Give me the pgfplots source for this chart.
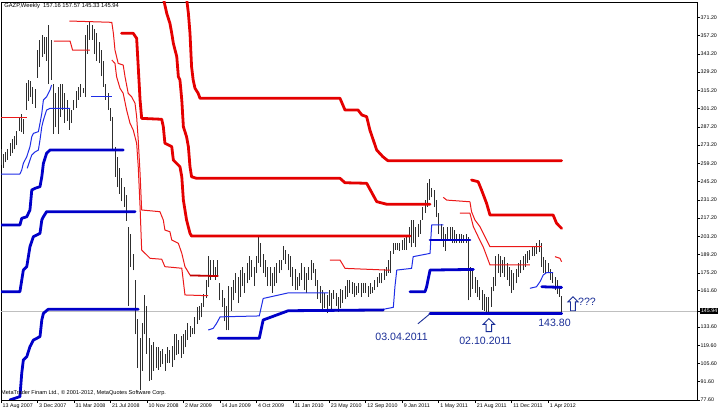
\documentclass[border=0pt]{standalone}
\usepackage{pgfplots}
\pgfplotsset{compat=1.18}
\usepackage{pgfplotstable}
\usepackage{fontspec}
\setmainfont{Liberation Sans}
\usetikzlibrary{shapes.arrows}
\definecolor{redk}{RGB}{228,0,0}
\definecolor{redt}{RGB}{235,25,25}
\definecolor{bluek}{RGB}{0,0,200}
\definecolor{bluet}{RGB}{30,45,230}
\definecolor{annot}{RGB}{25,45,150}

\pgfplotstableread{
w h l
0 270 258
1 266 256
2 268 260
3 270 262
4 275 265
5 278 267
6 280 270
7 284 273
8 295 284
9 297 283
10 293 282
11 321 300
12 323 307
13 322 310
14 318 305
15 316 302
16 346 325
17 354 333
18 358 341
19 356 343
20 356 338
21 365 320
22 354 323
23 320 282
24 313 287
25 318 282
26 320 295
27 320 300
28 313 290
29 308 292
30 302 285
31 300 290
32 308 300
33 315 302
34 318 308
35 320 310
36 317 313
37 358 310
38 365 343
39 368 354
40 365 354
41 362 343
42 359 338
43 352 336
44 346 326
45 338 318
46 320 308
47 313 300
48 302 292
49 295 270
50 272 249
51 264 241
52 256 236
53 248 230
54 241 226
55 235 215
56 210 150
57 205 180
58 190 177
59 170 128
60 140 102
61 125 85
62 137 100
63 158 128
64 150 113
65 125 92
66 120 93
67 122 100
68 118 102
69 118 101
70 115 103
71 117 105
72 113 100
73 118 106
74 116 106
75 119 103
76 128 108
77 128 112
78 124 113
79 127 110
80 128 113
81 131 118
82 137 124
83 134 126
84 133 128
85 141 128
86 149 136
87 150 139
88 152 141
89 159 149
90 170 156
91 188 164
92 185 170
93 185 172
94 180 170
95 185 172
96 167 154
97 162 149
98 156 138
99 150 131
100 165 131
101 164 146
102 170 154
103 175 160
104 172 152
105 177 157
106 180 165
107 175 160
108 183 167
109 188 170
110 185 172
111 180 165
112 188 175
113 203 183
114 198 180
115 190 175
116 185 172
117 180 165
118 180 165
119 175 160
120 180 165
121 183 167
122 185 175
123 185 177
124 196 185
125 193 182
126 190 177
127 188 172
128 180 165
129 178 162
130 172 162
131 175 165
132 183 170
133 180 162
134 175 160
135 180 170
136 185 170
137 183 175
138 178 165
139 170 155
140 165 152
141 162 145
142 160 148
143 158 144
144 162 150
145 160 147
146 162 155
147 160 150
148 157 145
149 163 148
150 162 152
151 165 155
152 170 157
153 170 160
154 168 159
155 167 157
156 165 158
157 167 160
158 167 157
159 167 160
160 167 160
161 165 157
162 167 159
163 164 160
164 170 162
165 172 164
166 175 167
167 175 167
168 178 170
169 180 173
170 185 175
171 192 175
172 198 190
173 198 193
174 198 193
175 198 192
176 200 193
177 202 193
178 203 193
179 210 198
180 216 195
181 216 198
182 210 195
183 213 203
184 216 205
185 226 216
186 231 221
187 244 226
188 247 231
189 240 233
190 239 226
191 231 218
192 221 205
193 213 200
194 210 195
195 205 192
196 210 200
197 210 200
198 210 198
199 208 198
200 205 198
201 205 198
202 205 198
203 204 198
204 205 198
205 203 154
206 180 157
207 178 163
208 172 160
209 170 157
210 164 154
211 162 147
212 159 146
213 157 144
214 157 143.8
215 164 149
216 172 161
217 188 165
218 190 175
219 188 172
220 185 175
221 187 172
222 183 170
223 180 165
224 177 160
225 175 162
226 178 167
227 183 172
228 185 175
229 188 177
230 190 180
231 192 183
232 193 185
233 195 188
234 195 188
235 198 190
236 200 191
237 198 180
238 187 175
239 185 175
240 183 175
241 178 170
242 175 167
243 172 162
244 170 159
245 165 157
246 157.57 145.33
}\bars

\pgfplotsset{
  rk/.style={color=redk, line width=2.8bp, line join=round, line cap=round, mark=none},
  rt/.style={color=redt, line width=1bp, line join=round, mark=none},
  bk/.style={color=bluek, line width=2.8bp, line join=round, line cap=round, mark=none},
  bt/.style={color=bluet, line width=1bp, line join=round, mark=none},
}

\begin{document}
\begin{tikzpicture}
\begin{axis}[
  at={(0,0)}, anchor=south west,
  scale only axis, width=696bp, height=398bp,
  xmin=0, xmax=305.3, ymin=77.6, ymax=383,
  axis line style={line width=0.7bp},
  tick align=outside, major tick length=3bp,
  tick style={black, line width=0.6bp},
  xtick pos=left, ytick pos=right,
  yticklabel pos=right,
  xtick={0,16,32,48,64,80,96,112,128,144,160,176,192,208,224,240},
  xticklabels={13 Aug 2007,3 Dec 2007,31 Mar 2008,21 Jul 2008,10 Nov 2008,2 Mar 2009,14 Jun 2009,4 Oct 2009,31 Jan 2010,23 May 2010,12 Sep 2010,9 Jan 2011,1 May 2011,21 Aug 2011,11 Dec 2011,1 Apr 2012},
  ytick={77.6,91.6,105.6,119.6,133.6,161.6,175.2,189.2,203.2,217.2,231.2,245.2,259.2,273.2,287.2,301.2,315.2,329.2,343.2,357.2,371.2},
  yticklabels={77.60,91.60,105.60,119.60,133.60,161.60,175.20,189.20,203.20,217.20,231.20,245.20,259.20,273.20,287.20,301.20,315.20,329.20,343.20,357.20,371.20},
  ticklabel style={font=\fontsize{5.3bp}{6bp}\selectfont, inner sep=0.5bp},
  xticklabel style={anchor=north west, xshift=1bp},
  yticklabel style={anchor=west},
  extra y ticks={145.94},
  extra y tick labels={145.94},
  extra y tick style={yticklabel style={fill=black, text=white, inner sep=0.8bp}},
  clip=true,
]
% current price line
\addplot[color=black!25, line width=0.6bp, forget plot] coordinates {(0,145.94) (305.3,145.94)};

% weekly price bars (high-low)
\addplot[only marks, mark=*, mark size=0pt, mark options={draw opacity=0, fill opacity=0}, forget plot,
  error bars/.cd, y dir=plus, y explicit, error mark=none,
  error bar style={line width=0.95bp, color=black!82, draw opacity=1}]
  table[x=w, y=l, y error expr=\thisrow{h}-\thisrow{l}] {\bars};

% red thick
\addplot[rk] coordinates {(52.9,359.0)(58.0,359.0)(59.5,355.1)(60.2,333.3)(61.0,307.8)(61.7,293.7)(70.5,293.0)(71.2,287.3)(71.9,274.6)(74.9,272.0)(75.6,261.7)(78.5,256.6)(79.3,248.9)(80.0,231.0)(81.4,215.7)(82.9,205.5)(83.6,203.4)(179.4,203.4)};
\addplot[rk] coordinates {(71.2,386)(72.7,374.3)(74.1,366.6)(74.9,359.0)(75.6,351.3)(77.1,341.0)(77.8,325.7)(78.5,323.1)(79.3,307.8)(80.0,287.3)(81.4,279.6)(82.2,271.9)(82.9,256.6)(83.6,248.9)(85.8,247.7)(148.7,247.7)(150.9,244.3)(160.4,243.9)(164.8,229.8)(169.2,227.8)(188.2,227.8)};
\addplot[rk] coordinates {(81.4,386)(82.2,374.3)(82.9,359.0)(83.6,333.3)(84.3,323.1)(85.1,316.8)(86.5,312.9)(87.3,309.1)(148.7,309.1)(150.9,300.1)(156.6,300.1)(158.3,296.3)(160.4,295.0)(161.8,284.8)(164.8,269.4)(167.5,264.3)(169.7,261.2)(245.9,261.2)};
\addplot[rk] coordinates {(206.4,246.4)(209.3,245.1)(210.8,238.7)(213.0,228.5)(214.5,219.5)(242.2,219.5)(243.7,213.2)(245.9,209.3)};

% red thin
\addplot[rt] coordinates {(0,294.7)(11.4,294.7)};
\addplot[rt] coordinates {(23.2,353.0)(30.3,353.0)(31.4,346.1)(39.0,346.1)};
\addplot[rt] coordinates {(30.0,368.4)(48.6,367.4)(49.3,359.0)(50.0,346.1)(51.4,335.9)(53.6,334.6)(54.4,325.7)(55.8,312.9)(57.3,310.3)(58.8,305.2)(59.5,295.0)(60.2,277.1)(61.0,251.5)(61.7,223.4)(69.7,222.1)(71.2,215.7)(71.9,208.0)(74.1,206.7)(74.9,200.4)(77.8,197.8)(79.3,190.2)(80.7,179.9)(82.9,173.5)};
\addplot[rt, line width=1.8bp, color=redk!85!black] coordinates {(82.9,173.2)(95.3,172.7)};
\addplot[rt] coordinates {(48.6,338.5)(50.0,335.9)(50.7,325.7)(52.2,316.8)(53.6,312.9)(55.1,300.1)(56.6,289.9)(58.0,284.8)(59.5,274.6)(60.2,256.6)(61.0,225.9)(61.7,192.7)(65.4,186.3)(70.5,185.6)(71.9,179.9)(79.3,178.7)(80.7,158.2)(90.9,157.6)};
\addplot[rt] coordinates {(144.3,185.0)(148.7,185.0)(150.9,178.6)(169.2,177.3)(170.6,177.3)};
\addplot[rt] coordinates {(194.0,233.1)(195.5,231.0)(205.7,229.7)(206.4,222.1)(207.9,215.7)(210.1,210.6)(212.3,202.9)(214.5,195.2)(237.2,195.2)};
\addplot[rt] coordinates {(201.3,220.9)(205.7,220.9)(207.2,210.6)(209.3,202.9)(211.5,195.2)(214.5,181.2)(232.0,181.2)};
\addplot[rt] coordinates {(243.0,187.6)(245.2,186.3)(245.9,183.7)};

% blue thin
\addplot[bt] coordinates {(0,251.0)(8.3,251.0)(9.1,254.1)(9.8,259.2)(11.3,264.3)(12.7,271.9)(13.5,279.6)(14.2,282.2)(16.4,283.5)(17.1,289.9)(17.9,297.6)(18.6,307.8)(20.0,310.3)(21.5,315.4)(22.2,319.3)};
\addplot[bt] coordinates {(11.5,255.4)(12.7,261.7)(13.5,265.6)(14.9,267.9)(16.4,269.4)(17.1,277.1)(17.9,287.3)(18.6,292.4)(20.0,300.1)(21.5,301.4)(30.3,301.4)};
\addplot[bt] coordinates {(39.5,310.3)(48.6,310.3)};
\addplot[bt] coordinates {(90.9,131.3)(93.1,132.6)(94.6,136.5)(96.1,141.4)(113.3,142.1)(115.0,155.5)(126.0,159.8)(143.6,159.8)};
\addplot[bt] coordinates {(167.7,147.2)(172.1,148.7)(172.8,164.5)(173.6,177.3)(180.1,178.6)(180.8,187.6)(188.2,190.1)(188.9,211.9)(194.0,211.9)};
\addplot[bt] coordinates {(232.0,163.3)(234.9,164.5)(236.4,168.3)(237.9,173.6)(239.3,175.3)(242.2,175.3)};

% blue thick
\addplot[bk] coordinates {(0,211.9)(8.3,211.9)(9.1,217.0)(11.3,218.2)(12.7,223.4)(13.5,238.7)(14.9,240.0)(17.1,241.3)(17.9,248.9)(18.6,259.2)(20.0,266.9)(21.5,269.4)(53.6,269.4)};
\addplot[bk] coordinates {(0,160.7)(8.3,160.7)(9.8,177.3)(11.3,179.9)(12.7,195.2)(14.2,202.9)(17.1,205.5)(17.9,215.7)(18.6,218.2)(20.0,222.1)(58.8,222.1)};
\addplot[bk] coordinates {(3.9,77.6)(8.3,80.2)(9.1,98.1)(9.8,108.3)(11.3,110.8)(12.7,118.5)(14.2,123.6)(17.1,126.2)(17.9,139.0)(18.6,144.1)(20.7,147.2)(60.2,147.2)};
\addplot[bk] coordinates {(95.3,125.0)(113.3,125.0)(115.0,139.0)(126.0,146.1)(167.7,146.7)};
\addplot[bk] coordinates {(188.2,200.4)(205.7,200.4)};
\addplot[bk] coordinates {(179.4,160.7)(186.0,160.7)(186.7,164.5)(188.2,177.3)(207.2,177.8)};
\addplot[bk] coordinates {(188.2,143.8)(245.9,143.8)};
\addplot[bk] coordinates {(237.2,164.5)(245.9,164.0)};

% annotations
\draw[annot, line width=0.9bp] (axis cs:182.9,136.1) -- (axis cs:188.2,143.8);
\node[text=annot, font=\fontsize{10.6bp}{12bp}\selectfont, inner sep=0] at (axis cs:175.7,126.3) {03.04.2011};
\node[text=annot, font=\fontsize{10.6bp}{12bp}\selectfont, inner sep=0] at (axis cs:212.5,122.9) {02.10.2011};
\node[text=annot, font=\fontsize{10.6bp}{12bp}\selectfont, inner sep=0] at (axis cs:242.8,136.7) {143.80};
\node[text=annot, font=\fontsize{10.6bp}{12bp}\selectfont, inner sep=0, anchor=west] at (axis cs:253.1,152.8) {???};
\node[single arrow, draw=annot, fill=white, line width=0.9bp, rotate=90, minimum height=13bp, inner sep=2.3bp, single arrow head extend=3bp] at (axis cs:214.0,134.0) {};
\node[single arrow, draw=annot, fill=white, line width=0.9bp, rotate=90, minimum height=14bp, inner sep=2.0bp, single arrow head extend=2.6bp] at (axis cs:250.9,150.5) {};

\node[anchor=north west, inner sep=0, font=\fontsize{5.8bp}{7bp}\selectfont] at (rel axis cs:0.0045,0.9965) {GAZP,Weekly\ \ 157.16 157.57 145.33 145.94};
\node[anchor=west, inner sep=0, font=\fontsize{5.6bp}{7bp}\selectfont] at (rel axis cs:0.0,0.0176) {MetaTrader Finam Ltd., \textcopyright{} 2001-2012, MetaQuotes Software Corp.};
\end{axis}
\pgfresetboundingbox
\path (-1bp,-11bp) rectangle (719bp,400bp);
\end{tikzpicture}
\end{document}
